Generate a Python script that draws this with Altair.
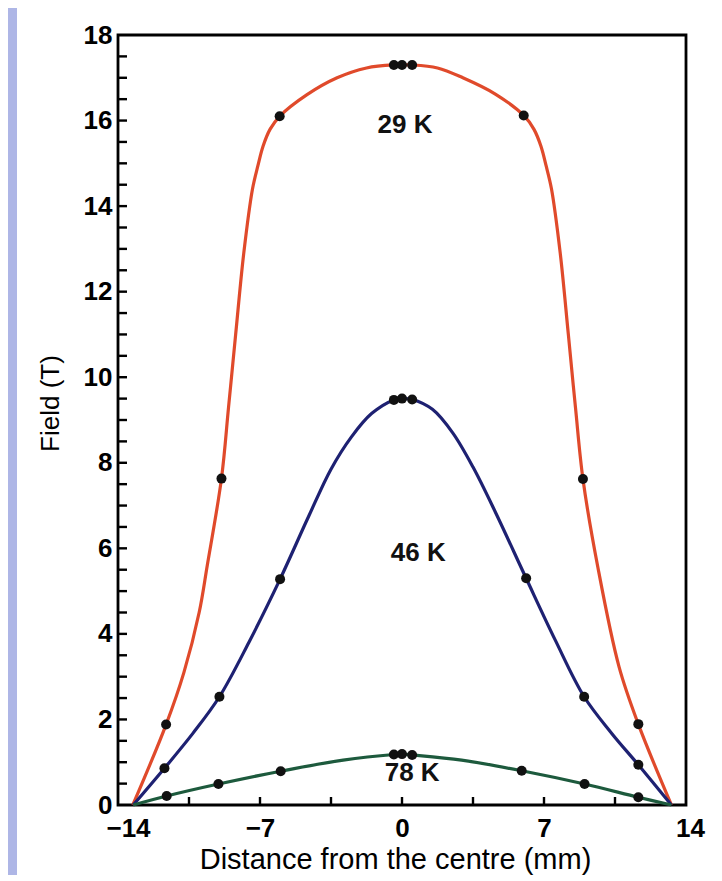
import altair as alt
import pandas as pd

# ---- data ----
series_names = ["29 K", "46 K", "78 K"]
series_colors = ["#E04A2B", "#1E2172", "#1D5A3D"]

# curve samples
red_x = [-13.27, -11.63, -10.75, -10.0, -9.6, -8.9, -8.55, -8.2, -7.8, -7.37, -7.1, -6.85, -6.5, -6.03,
         -4.7, -3.2, -1.75, -0.4, 0.0, 0.5, 1.75, 3.0, 4.6,
         6.0, 6.5, 6.85, 7.1, 7.37, 7.8, 8.2, 8.55, 8.92, 9.65, 10.7, 11.65, 13.28]
red_y = [0.0, 1.88, 3.1, 4.5, 5.6, 7.63, 9.3, 11.0, 12.9, 14.4, 14.95, 15.4, 15.8, 16.1,
         16.6, 17.0, 17.23, 17.3, 17.3, 17.3, 17.23, 17.0, 16.62,
         16.12, 15.8, 15.4, 14.95, 14.4, 12.9, 11.0, 9.3, 7.62, 5.57, 3.23, 1.89, 0.0]

blue_x = [-13.25, -11.71, -10.3, -9.0, -7.55, -6.01, -4.6, -3.5, -2.5, -1.5, -0.4, 0.0, 0.5,
          1.5, 2.5, 3.5, 4.6, 6.12, 7.55, 8.98, 10.33, 11.65, 13.28]
blue_y = [0.0, 0.86, 1.68, 2.53, 3.8, 5.28, 6.75, 7.85, 8.6, 9.15, 9.47, 9.5, 9.48,
          9.25, 8.7, 7.9, 6.85, 5.3, 3.86, 2.53, 1.68, 0.94, 0.0]

green_x = [-13.25, -11.6, -9.05, -5.98, -2.9, -0.4, 0.0, 0.5, 2.94, 5.9, 9.0, 11.65, 13.28]
green_y = [0.0, 0.21, 0.49, 0.79, 1.05, 1.18, 1.19, 1.17, 1.05, 0.8, 0.49, 0.18, 0.0]

# measured points (black dots)
red_pts_x = [-11.63, -8.9, -6.03, -0.4, 0.0, 0.5, 6.0, 8.92, 11.65]
red_pts_y = [1.88, 7.63, 16.1, 17.3, 17.3, 17.3, 16.12, 7.62, 1.89]
blue_pts_x = [-11.71, -9.0, -6.01, -0.4, 0.0, 0.5, 6.12, 8.98, 11.65]
blue_pts_y = [0.86, 2.53, 5.28, 9.47, 9.5, 9.48, 5.3, 2.53, 0.94]
green_pts_x = [-11.6, -9.05, -5.98, -0.4, 0.0, 0.5, 5.9, 9.0, 11.65]
green_pts_y = [0.21, 0.49, 0.79, 1.18, 1.19, 1.17, 0.8, 0.49, 0.18]

# curve labels
label_text = ["29 K", "46 K", "78 K"]
label_x = [0.15, 0.8, 0.5]
label_y = [15.9, 5.9, 0.75]

# axis ticks
x_tick_labels = [-14, -7, 0, 7, 14]
x_ticks = [-10.5, -7, -3.5, 0, 3.5, 7, 10.5]
y_tick_labels = [0, 2, 4, 6, 8, 10, 12, 14, 16, 18]
y_ticks = [0.5 * k for k in range(1, 36)]

W, H = 568, 770

# ---- tables ----
curves = pd.concat([
    pd.DataFrame({"series": series_names[0], "x": red_x, "y": red_y}),
    pd.DataFrame({"series": series_names[1], "x": blue_x, "y": blue_y}),
    pd.DataFrame({"series": series_names[2], "x": green_x, "y": green_y}),
])
points = pd.concat([
    pd.DataFrame({"series": series_names[0], "x": red_pts_x, "y": red_pts_y}),
    pd.DataFrame({"series": series_names[1], "x": blue_pts_x, "y": blue_pts_y}),
    pd.DataFrame({"series": series_names[2], "x": green_pts_x, "y": green_pts_y}),
])
labels = pd.DataFrame({"label": label_text, "x": label_x, "y": label_y})
xt = pd.DataFrame({"v": x_ticks})
yt = pd.DataFrame({"v": y_ticks})

xscale = alt.Scale(domain=[-14, 14], nice=False, zero=False)
yscale = alt.Scale(domain=[0, 18], nice=False)

X = alt.X("x:Q", scale=xscale,
          axis=alt.Axis(values=x_tick_labels, format="d", title="Distance from the centre (mm)",
                        labelFlush=False,
                        labelOffset={"condition": [{"test": "datum.value < -13", "value": 10},
                                                   {"test": "datum.value > 13", "value": 4}],
                                     "value": 0},
                        labelPadding=10, titlePadding=4, titleFontSize=29, titleX=W / 2 - 7))
Y = alt.Y("y:Q", scale=yscale,
          axis=alt.Axis(values=y_tick_labels, format="d", title="Field (T)",
                        labelPadding=6, titlePadding=20, titleY=368))

# slide background strip at the left edge
strip = alt.Chart(pd.DataFrame({"a": [0]})).mark_rect(color="#AEB6E6", clip=False).encode(
    x=alt.value(-110), x2=alt.value(-101), y=alt.value(-27), y2=alt.value(H + 80)
)

lines = alt.Chart(curves).mark_line(interpolate="catmull-rom", strokeWidth=3.2).encode(
    x=X, y=Y,
    color=alt.Color("series:N", scale=alt.Scale(domain=series_names, range=series_colors), legend=None),
)

dots = alt.Chart(points).mark_point(filled=True, shape="circle", size=100, color="#111111", opacity=1).encode(
    x="x:Q", y="y:Q"
)

xt_rules = alt.Chart(xt).mark_rule(color="black", strokeWidth=2.4).encode(
    x=alt.X("v:Q", scale=xscale), y=alt.value(H), y2=alt.value(H - 8)
)
yt_rules = alt.Chart(yt).mark_rule(color="black", strokeWidth=2.4).encode(
    y=alt.Y("v:Q", scale=yscale), x=alt.value(0), x2=alt.value(9)
)

texts = alt.Chart(labels).mark_text(fontSize=26, fontWeight="bold", font="Liberation Sans",
                                     color="#111111").encode(
    x="x:Q", y="y:Q", text="label:N"
)

chart = alt.layer(strip, lines, dots, xt_rules, yt_rules, texts).properties(
    width=W, height=H,
    autosize=alt.AutoSizeParams(type="none"),
    padding={"left": 110, "top": 27, "right": 28, "bottom": 70},
    background="white",
).configure_view(
    stroke="black", strokeWidth=2.8
).configure_axis(
    domain=False, ticks=False, tickSize=0, grid=False,
    labelFont="Liberation Sans", labelFontSize=26, labelColor="black", labelFontWeight="bold",
    titleFont="Liberation Sans", titleFontSize=26, titleFontWeight="normal", titleColor="black",
)

chart.save("out.html", embed_options={"renderer": "svg", "actions": False})
